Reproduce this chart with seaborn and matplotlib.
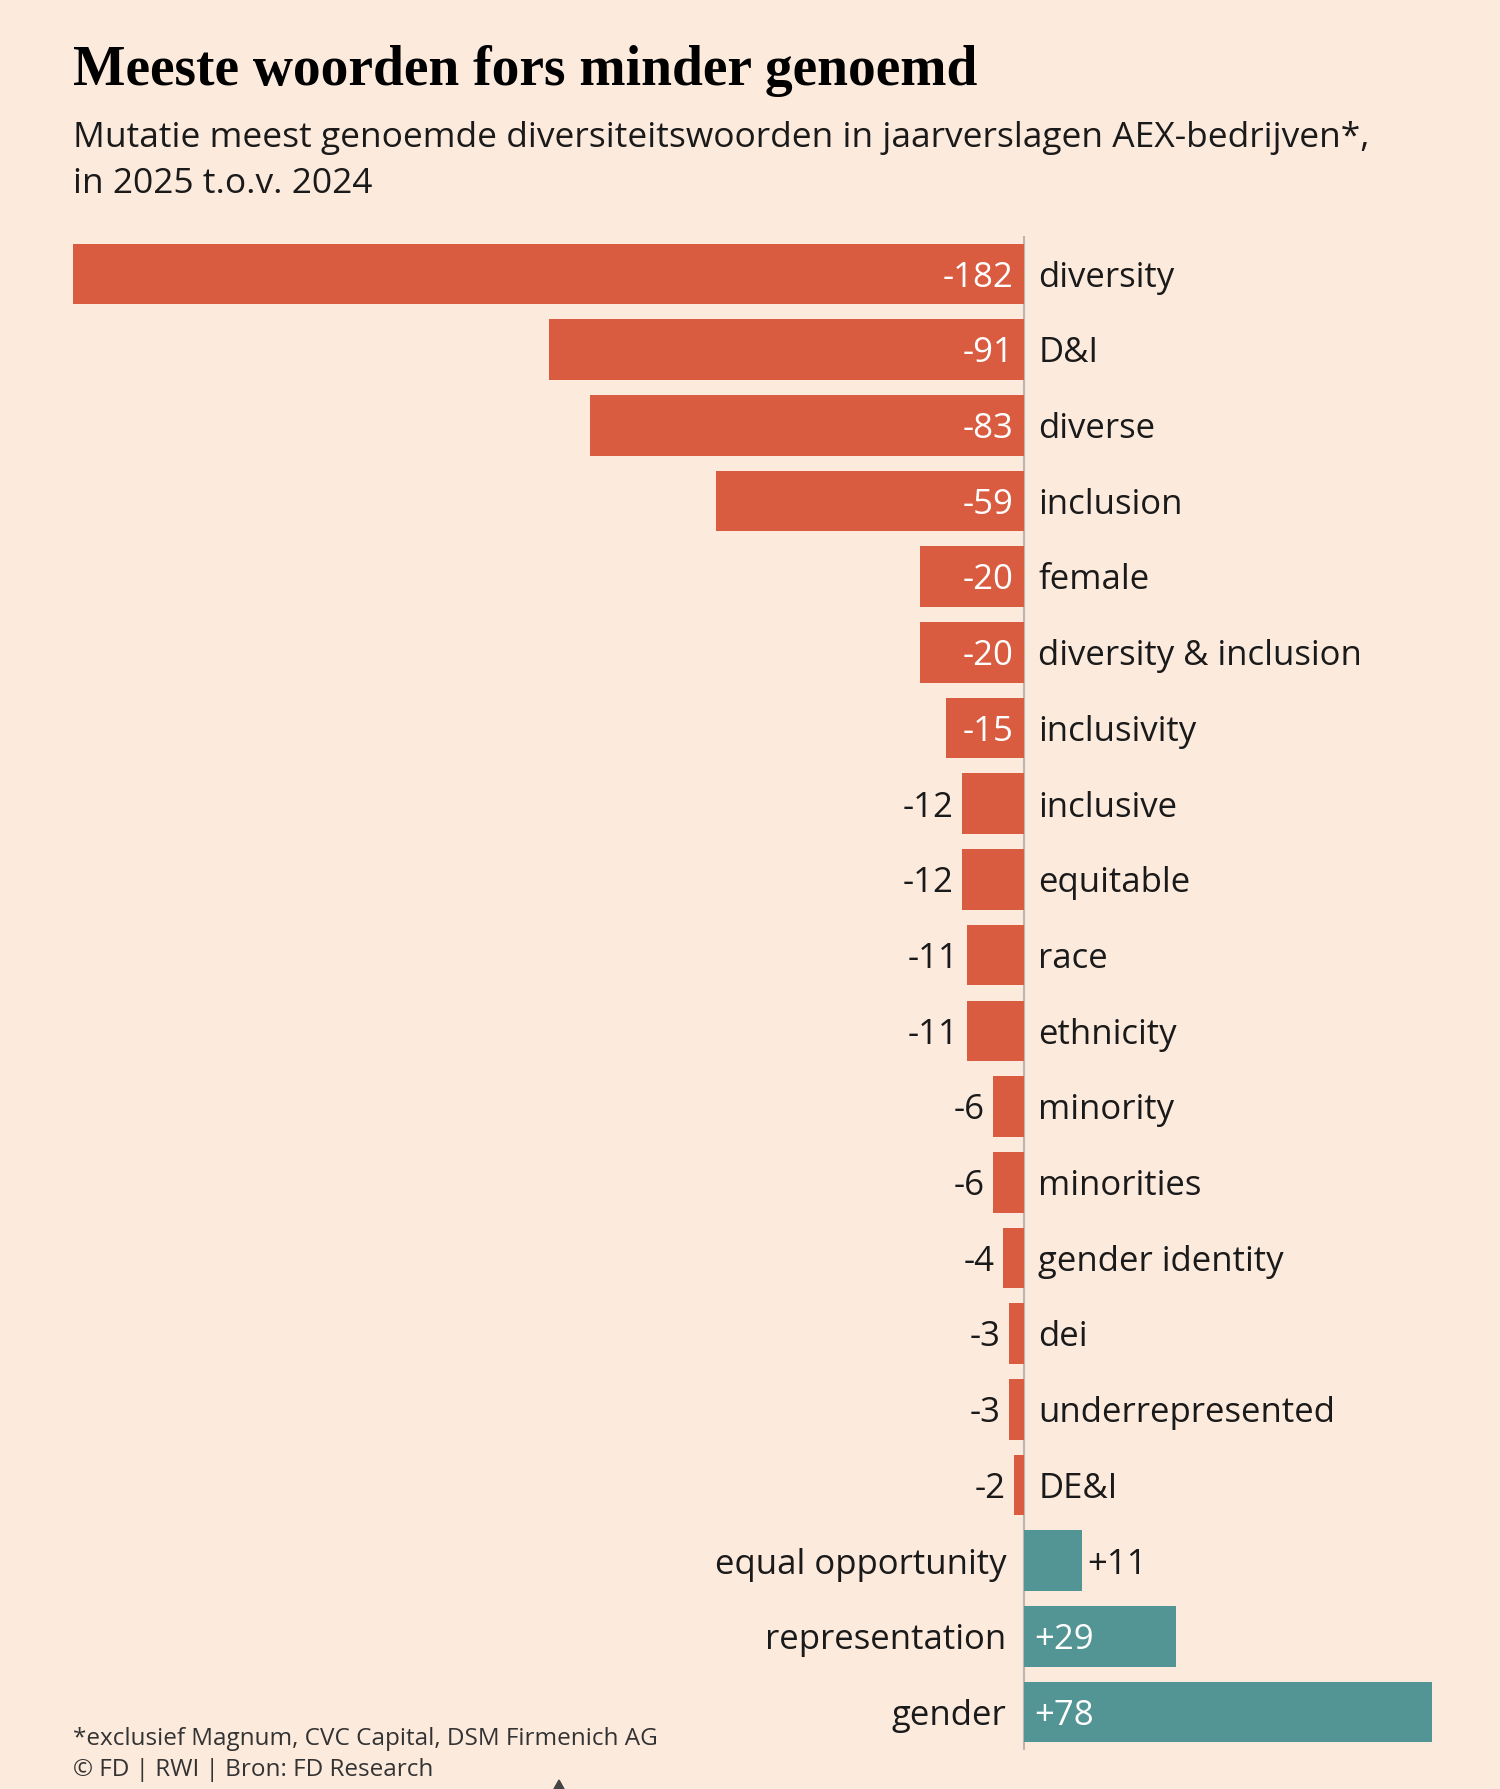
import pandas as pd
import matplotlib.pyplot as plt
import seaborn as sns

# data
words = ["diversity", "D&I", "diverse", "inclusion", "female",
         "diversity & inclusion", "inclusivity", "inclusive", "equitable",
         "race", "ethnicity", "minority", "minorities", "gender identity",
         "dei", "underrepresented", "DE&I", "equal opportunity",
         "representation", "gender"]
changes = [-182, -91, -83, -59, -20, -20, -15, -12, -12, -11, -11,
           -6, -6, -4, -3, -3, -2, 11, 29, 78]

BG = "#FCEADD"
RED = "#D95B40"
TEAL = "#539495"
INK = "#1A1A1A"
SANS = ["Open Sans", "DejaVu Sans"]

df = pd.DataFrame({"word": words, "change": changes})
df["dir"] = ["down" if c < 0 else "up" for c in changes]

sns.set_theme(style="white")
plt.rcParams["font.family"] = SANS

fig = plt.figure(figsize=(15, 17.9), dpi=100, facecolor=BG)
ax = fig.add_axes([73 / 1500, 39 / 1790, (1432 - 73) / 1500, 1514 / 1790])
ax.set_facecolor(BG)

sns.barplot(data=df, x="change", y="word", hue="dir",
            palette={"down": RED, "up": TEAL}, orient="h",
            width=0.8, dodge=False, legend=False, saturation=1,
            linewidth=0, ax=ax)

ax.set_xlim(min(changes), max(changes))
ax.set_ylim(len(words) - 0.5, -0.5)
ax.axvline(0, color="#BDB5AF", lw=1.5, zorder=0)
for s in ax.spines.values():
    s.set_visible(False)
ax.set_xticks([])
ax.set_yticks([])
ax.set_xlabel("")
ax.set_ylabel("")

# -------------------------------
# labels: words and values
# -------------------------------
fs = 25
dy = -2  # nudge text down a little so it sits in the middle of the bar
for i, (w, c) in enumerate(zip(words, changes)):
    txt = f"{c:+d}" if c > 0 else f"{c}"
    if c < 0:
        ax.annotate(w, (0, i), xytext=(10, dy), textcoords="offset points",
                    ha="left", va="center", fontsize=fs, color=INK)
        if abs(c) >= 15:
            ax.annotate(txt, (0, i), xytext=(-8, dy), textcoords="offset points",
                        ha="right", va="center", fontsize=fs, color="white")
        else:
            ax.annotate(txt, (c, i), xytext=(-6, dy), textcoords="offset points",
                        ha="right", va="center", fontsize=fs, color=INK)
    else:
        ax.annotate(w, (0, i), xytext=(-13, dy), textcoords="offset points",
                    ha="right", va="center", fontsize=fs, color=INK)
        if abs(c) >= 15:
            ax.annotate(txt, (0, i), xytext=(7, dy), textcoords="offset points",
                        ha="left", va="center", fontsize=fs, color="white")
        else:
            ax.annotate(txt, (c, i), xytext=(4, dy), textcoords="offset points",
                        ha="left", va="center", fontsize=fs, color=INK)

# -------------------------------
# title, subtitle, footer
# -------------------------------
fig.text(73 / 1500, 1 - 85 / 1790, "Meeste woorden fors minder genoemd",
         fontsize=40, fontweight="bold", color="black",
         family=["Liberation Serif", "DejaVu Serif"], va="baseline")
fig.text(73 / 1500, 1 - 147 / 1790,
         "Mutatie meest genoemde diversiteitswoorden in jaarverslagen AEX-bedrijven*,",
         fontsize=25.5, color=INK, va="baseline")
fig.text(73 / 1500, 1 - 193 / 1790, "in 2025 t.o.v. 2024",
         fontsize=25.5, color=INK, va="baseline")
fig.text(73 / 1500, 1 - 1745 / 1790,
         "*exclusief Magnum, CVC Capital, DSM Firmenich AG",
         fontsize=17.5, color="#333333", va="baseline")
fig.text(73 / 1500, 1 - 1776 / 1790, "© FD | RWI | Bron: FD Research",
         fontsize=17.5, color="#333333", va="baseline")

# small pointer triangle cut off at the bottom edge
tri = plt.Polygon([(559 / 1500, 1 - 1781 / 1790), (549 / 1500, -0.005),
                   (569 / 1500, -0.005)], closed=True, color="#444444",
                  transform=fig.transFigure, clip_on=False)
fig.add_artist(tri)

fig.savefig("out.png", dpi=100, facecolor=BG)
